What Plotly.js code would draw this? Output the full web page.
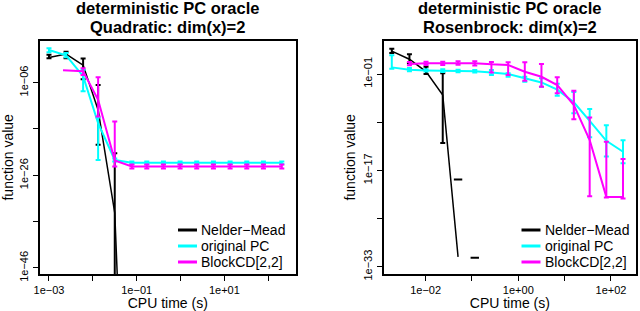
<!DOCTYPE html>
<html><head><meta charset="utf-8">
<script src="https://cdn.plot.ly/plotly-3.0.1.min.js"></script>
<style>html,body{margin:0;padding:0;background:#fff}#chart{width:640px;height:311px}</style>
</head><body><div id="chart"></div>
<script>
// ---------- series names / titles ----------
const seriesNames = ['Nelder\u2212Mead', 'original PC', 'BlockCD[2,2]'];
const panelTitles = [['deterministic PC oracle', 'Quadratic: dim(x)=2'], ['deterministic PC oracle', 'Rosenbrock: dim(x)=2']];
const xTitle = 'CPU time (s)';
const yTitle = 'function value';

// ---------- Quadratic panel (CPU time s, function value) ----------
const quadNMTime  = [0.001, 0.00245, 0.006, 0.0132, 0.0316, 0.0776];
const quadNMMean  = [0.28, 1.5, 6e-3, 1.3e-12, 8e-35, 1e-126];
const quadNMUpper = [1.0, 4.8, 0.16, 3e-7, 6e-22, null];
const quadNMLower = [0.18, 0.18, 5.4e-6, 4e-20, 1e-48, null];

const quadPCTime  = [0.001, 0.00245, 0.006, 0.0132, 0.0316, 0.0776, 0.17, 0.407, 0.977, 2.34, 5.62, 13.5, 32.4, 77.6, 204];
const quadPCMean  = [11, 0.8, 2.5e-5, 1.8e-15, 2e-23, 5e-24, 5e-24, 5e-24, 5e-24, 5e-24, 5e-24, 5e-24, 5e-24, 5e-24, 5e-24];
const quadPCUpper = [25, 2.5, 6e-4, 3e-14, 4e-23, 1e-23, 1e-23, 1e-23, 1e-23, 1e-23, 1e-23, 1e-23, 1e-23, 1e-23, 1e-23];
const quadPCLower = [3.5, 0.3, 1.3e-8, 2e-23, 1e-23, 2.5e-24, 2.5e-24, 2.5e-24, 2.5e-24, 2.5e-24, 2.5e-24, 2.5e-24, 2.5e-24, 2.5e-24, 2.5e-24];

const quadBCDTime  = [0.00209, 0.006, 0.0132, 0.0316, 0.0776, 0.17, 0.407, 0.977, 2.34, 5.62, 13.5, 32.4, 77.6, 204];
const quadBCDMean  = [4.7e-4, 2.8e-4, 2e-10, 1.6e-23, 8e-25, 8e-25, 8e-25, 8e-25, 8e-25, 8e-25, 8e-25, 8e-25, 8e-25, 8e-25];
const quadBCDUpper = [null, 1.3e-3, 1.4e-5, 4e-15, 2.2e-24, 2.2e-24, 2.2e-24, 2.2e-24, 2.2e-24, 2.2e-24, 2.2e-24, 2.2e-24, 2.2e-24, 2.2e-24];
const quadBCDLower = [null, 4.5e-5, 5e-14, 8e-25, 2.8e-25, 2.8e-25, 2.8e-25, 2.8e-25, 2.8e-25, 2.8e-25, 2.8e-25, 2.8e-25, 2.8e-25, 2.8e-25];

// ---------- Rosenbrock panel ----------
const rosNMTime  = [0.00186, 0.00447, 0.0102, 0.0234, 0.0501];
const rosNMMean  = [620, 28, 0.25, 3.2e-5, 4.5e-32];
const rosNMUpper = [1600, 200, 1.6, 0.13, null];
const rosNMLower = [320, 6.3, 0.1, 3.5e-13, null];
// upper bounds whose lower bound is not positive (only the cap is drawn)
const rosNMCapTime  = [0.0501, 0.115];
const rosNMCapValue = [3e-19, 3e-32];

const rosPCTime  = [0.00186, 0.00447, 0.0102, 0.0234, 0.0501, 0.115, 0.263, 0.603, 1.38, 3.16, 6.92, 15.8, 34.7, 79.4, 182];
const rosPCMean  = [1.26, 0.5, 0.4, 0.38, 0.32, 0.28, 0.18, 0.1, 0.02, 4e-3, 2.5e-4, 2e-6, 1.6e-9, 8e-13, 1.26e-14];
const rosPCUpper = [125, 1.0, 0.63, 0.63, 0.5, 0.45, 0.46, 0.13, 0.035, 0.02, 2.5e-3, 1e-4, 1.6e-7, 3.2e-10, 1e-12];
const rosPCLower = [0.76, 0.28, 0.25, 0.22, 0.2, 0.18, 0.068, 0.035, 5.2e-3, 8e-4, 2.5e-5, 3.2e-8, 3.2e-12, 2e-15, 1.6e-16];

const rosBCDTime  = [0.00447, 0.0102, 0.0234, 0.0501, 0.115, 0.263, 0.603, 1.38, 3.16, 6.92, 15.8, 34.7, 79.4, 182];
const rosBCDMean  = [4.6, 6.3, 6.3, 7.1, 6.3, 4.0, 3.2, 0.24, 0.035, 1.5e-3, 7e-7, 1.1e-12, 4e-22, 4e-22];
const rosBCDUpper = [10, 11, 11, 12.6, 12.6, 10, 8.7, 8.7, 4.6, 0.028, 1.7e-4, 6.3e-9, 5.6e-13, 8e-16];
const rosBCDLower = [2.8, 3.2, 3.2, 3.5, 2.5, 0.18, 0.068, 7.8e-3, 7.8e-4, 6.3e-5, 3.2e-9, 5e-22, 3.2e-22, 2.2e-22];

// ---------- tick labels ----------
const quadXTickVals = [1e-3, 1e-2, 1e-1, 1, 10, 100];
const quadXTickText = ['1e\u221203', '', '1e\u221201', '', '1e+01', ''];
const quadYTickVals = [1e-46, 1e-36, 1e-26, 1e-16, 1e-6];
const quadYTickText = ['1e\u221246', '', '1e\u221226', '', '1e\u221206'];
const rosXTickVals = [1e-2, 1e-1, 1, 10, 100];
const rosXTickText = ['1e\u221202', '', '1e+00', '', '1e+02'];
const rosYTickVals = [1e-33, 1e-25, 1e-17, 1e-9, 1e-1];
const rosYTickText = ['1e\u221233', '', '1e\u221217', '', '1e\u221201'];

// ---------- styling ----------
const FONT = 'Liberation Sans, Arial, Helvetica, sans-serif';
const colors = ['#000000', '#00FFFF', '#FF00FF'];
const lineWidths = [1.5, 2, 2];
const W = 640, H = 311;

function errBars(mean, up, lo, color) {
  return {
    type: 'data', symmetric: false, visible: true,
    array: up.map((u, i) => u == null ? NaN : u - mean[i]),
    arrayminus: lo.map((l, i) => l == null ? NaN : mean[i] - l),
    color: color, thickness: 2, width: 2.5
  };
}
function series(k, x, mean, up, lo, xa, ya) {
  return {
    type: 'scatter', mode: 'lines', name: seriesNames[k],
    x: x, y: mean, xaxis: xa, yaxis: ya,
    line: {color: colors[k], width: lineWidths[k]},
    error_y: errBars(mean, up, lo, colors[k]),
    showlegend: false
  };
}

const data = [
  series(0, quadNMTime, quadNMMean, quadNMUpper, quadNMLower, 'x', 'y'),
  series(1, quadPCTime, quadPCMean, quadPCUpper, quadPCLower, 'x', 'y'),
  series(2, quadBCDTime, quadBCDMean, quadBCDUpper, quadBCDLower, 'x', 'y'),
  series(0, rosNMTime, rosNMMean, rosNMUpper, rosNMLower, 'x2', 'y2'),
  {
    type: 'scatter', mode: 'markers', x: rosNMCapTime, y: rosNMCapValue, xaxis: 'x2', yaxis: 'y2',
    marker: {symbol: 'line-ew', size: 6, color: '#000', line: {color: '#000', width: 2}},
    showlegend: false, hoverinfo: 'skip'
  },
  series(1, rosPCTime, rosPCMean, rosPCUpper, rosPCLower, 'x2', 'y2'),
  series(2, rosBCDTime, rosBCDMean, rosBCDUpper, rosBCDLower, 'x2', 'y2')
];

const plotTop = 40.7, plotBottom = 274;
const yDom = [1 - plotBottom / H, 1 - plotTop / H];

function xAxis(dom, range, tv, tt, anchor) {
  return {
    type: 'log', domain: dom, range: range, anchor: anchor,
    tickmode: 'array', tickvals: tv, ticktext: tt,
    ticks: 'outside', ticklen: 5, tickwidth: 1, tickcolor: '#000',
    showline: true, mirror: true, linecolor: '#000', linewidth: 2,
    showgrid: false, zeroline: false,
    tickfont: {size: 11, family: FONT, color: '#000'},
    title: {text: xTitle, font: {size: 14, family: FONT, color: '#000'}, standoff: 3},
    automargin: false
  };
}
function yAxis(range, tv, tt, anchor) {
  return {
    type: 'log', domain: yDom, range: range, anchor: anchor,
    tickmode: 'array', tickvals: tv, ticktext: tt, tickangle: -90,
    ticks: 'outside', ticklen: 5, tickwidth: 1, tickcolor: '#000',
    showline: true, mirror: true, linecolor: '#000', linewidth: 2,
    showgrid: false, zeroline: false,
    tickfont: {size: 11, family: FONT, color: '#000'},
    title: {text: yTitle, font: {size: 14, family: FONT, color: '#000'}, standoff: 3},
    automargin: false
  };
}

const leftDom = [39.6 / W, 296 / W];
const rightDom = [383.7 / W, 636 / W];

function titleAnn(text, xPx, yPx) {
  return {text: '<b>' + text + '</b>', xref: 'paper', yref: 'paper', x: xPx / W, y: 1 - yPx / H,
    xanchor: 'center', yanchor: 'middle', showarrow: false,
    font: {size: 16.5, family: FONT, color: '#000'}};
}
const lc = (39.6 + 296) / 2, rc = (383.7 + 636) / 2;

// ---------- legends (drawn inside each panel, bottom right) ----------
const legendRowsPx = [230, 246, 262];
const legendPanels = [{lineX0: 178, lineX1: 197, textX: 199}, {lineX0: 521.5, lineX1: 540.5, textX: 543}];
const shapes = [], annotations = [
  titleAnn(panelTitles[0][0], lc, 8.3), titleAnn(panelTitles[0][1], lc, 26.8),
  titleAnn(panelTitles[1][0], rc, 8.3), titleAnn(panelTitles[1][1], rc, 26.8)
];
legendPanels.forEach(p => {
  seriesNames.forEach((name, k) => {
    const yp = 1 - legendRowsPx[k] / H;
    shapes.push({type: 'line', xref: 'paper', yref: 'paper', x0: p.lineX0 / W, x1: p.lineX1 / W, y0: yp, y1: yp,
      line: {color: colors[k], width: 3}});
    annotations.push({text: name, xref: 'paper', yref: 'paper', x: p.textX / W, y: yp, xanchor: 'left', yanchor: 'middle',
      showarrow: false, font: {size: 14, family: FONT, color: '#000'}});
  });
});

const layout = {
  width: W, height: H,
  margin: {l: 0, r: 0, t: 0, b: 0},
  paper_bgcolor: '#fff', plot_bgcolor: '#fff',
  font: {family: FONT, color: '#000'},
  xaxis: xAxis(leftDom, [-3.214, 2.633], quadXTickVals, quadXTickText, 'y'),
  yaxis: yAxis([-47.3, 3.05], quadYTickVals, quadYTickText, 'x'),
  xaxis2: xAxis(rightDom, [-2.905, 2.54], rosXTickVals, rosXTickText, 'y2'),
  yaxis2: yAxis([-34.2, 4.53], rosYTickVals, rosYTickText, 'x2'),
  showlegend: false,
  shapes: shapes,
  annotations: annotations
};

Plotly.newPlot('chart', data, layout, {staticPlot: true, displayModeBar: false});
</script>
</body></html>
